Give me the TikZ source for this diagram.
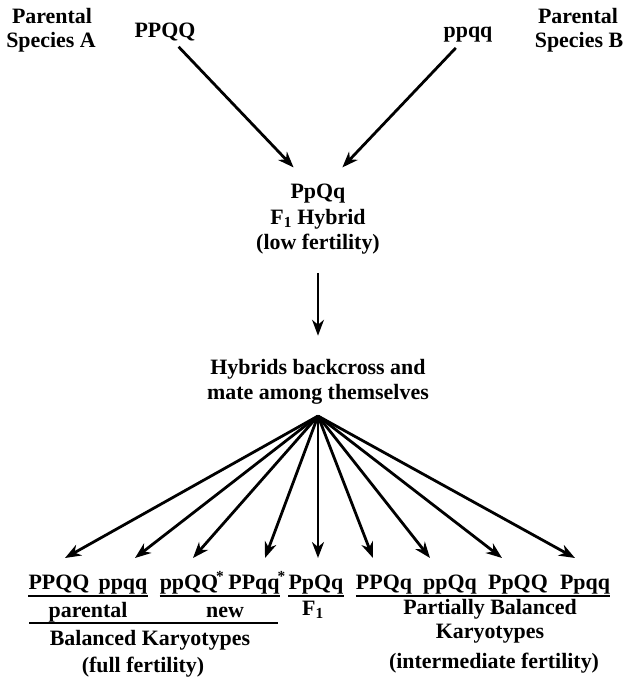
\documentclass[tikz,border=0pt]{standalone}
\usepackage{fontspec}
\setmainfont{Liberation Serif}
\usetikzlibrary{arrows.meta}

\begin{document}
\begin{tikzpicture}[x=1bp,y=-1bp,
    txt/.style={font=\bfseries\fontsize{22}{26}\selectfont, inner sep=0pt, anchor=base},
    arr/.style={-{Stealth[length=16pt,width=12pt,inset=5pt]}, line width=2.8pt},
    uline/.style={line width=1.7pt}]
  \useasboundingbox (0,0) rectangle (627,681);
  % parental species
  \node[txt] (pa1) at (52,24) {Parental};
  \node[txt] (pa2) at (51,48) {Species A};
  \node[txt] (pb1) at (578,24) {Parental};
  \node[txt] (pb2) at (579,48) {Species B};
  \node[txt] (gA) at (165,38) {PPQQ};
  \node[txt] (gB) at (468,38) {ppqq};
  % F1 hybrid
  \node[txt] (hyb) at (318,198) {PpQq};
  \node[txt] (hyb2) at (318,224) {F\textsubscript{1} Hybrid};
  \node[txt] (hyb3) at (318,249) {(low fertility)};
  \draw[arr, shorten <=7pt, shorten >=22pt] (gA) -- (hyb);
  \draw[arr, shorten <=7pt, shorten >=22pt] (gB) -- (hyb);
  % hybrid swarm
  \node[txt] (mix) at (318,374) {Hybrids backcross and};
  \node[txt] (mix2) at (318,399) {mate among themselves};
  \draw[arr, line width=1.6pt, shorten <=19pt, shorten >=23pt] (hyb3) -- (mix);
  \coordinate (fan) at (318,416);
  % offspring
  \node[txt] (o1) at (59,589) {PPQQ};
  \node[txt] (o2) at (123,589) {ppqq};
  \node[txt] (o3) at (189,589) {ppQQ\rlap{\kern-2pt\textsuperscript{*}}};
  \node[txt] (o4) at (254,589) {PPqq\rlap{\kern-2pt\textsuperscript{*}}};
  \node[txt] (o5) at (316,589) {PpQq};
  \node[txt] (o6) at (384,589) {PPQq};
  \node[txt] (o7) at (450,589) {ppQq};
  \node[txt] (o8) at (518,589) {PpQQ};
  \node[txt] (o9) at (585,589) {Ppqq};
  \foreach \n/\x in {1/65,2/135,3/193,4/265,5/318,6/373,7/430,8/502,9/575}
    \coordinate (t\n) at (\x,558);
  \foreach \n in {1,...,9}
    \draw[arr] (fan) -- (t\n);
  % underlines
  \draw[uline] ([yshift=-7pt]o1.base west) -- ([yshift=-7pt]o2.base east);
  \draw[uline] ([yshift=-7pt]o3.base west) -- ([yshift=-7pt]o4.base east);
  \draw[uline] ([yshift=-7pt]o5.base west) -- ([yshift=-7pt]o5.base east);
  \draw[uline] ([yshift=-7pt]o6.base west) -- ([yshift=-7pt]o9.base east);
  % groups
  \node[txt] (par) at (88,617) {parental};
  \node[txt] (new) at (225,617) {new};
  \draw[uline] (29,623) -- (278,623);
  \node[txt] (bal) at (150,645) {Balanced Karyotypes};
  \node[txt] (bal2) at (143,672) {(full fertility)};
  \node[txt] (f1) at (313,615) {F\textsubscript{1}};
  \node[txt] (part1) at (490,614) {Partially Balanced};
  \node[txt] (part2) at (490,638) {Karyotypes};
  \node[txt] (part3) at (494,668) {(intermediate fertility)};
\end{tikzpicture}
\end{document}
